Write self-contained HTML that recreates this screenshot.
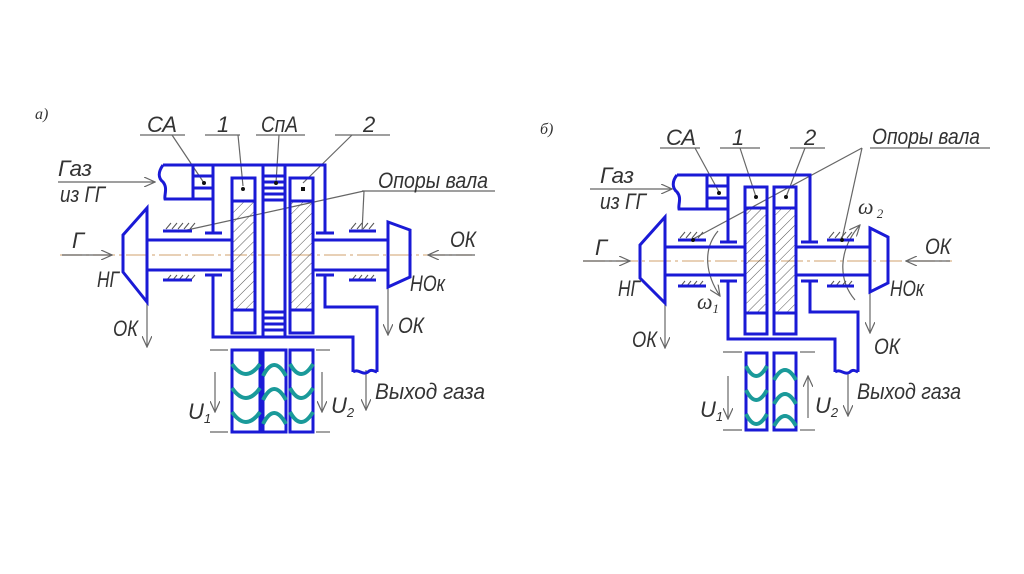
<!DOCTYPE html>
<html><head><meta charset="utf-8"><style>
html,body{margin:0;padding:0;background:#fff;}
svg{display:block;}
text{font-family:"Liberation Sans",sans-serif;font-style:italic;fill:#333;}
</style></head><body>
<svg width="1024" height="574" viewBox="0 0 1024 574" xmlns="http://www.w3.org/2000/svg">
<defs>
<pattern id="h" width="7" height="7" patternUnits="userSpaceOnUse" patternTransform="rotate(45)">
<line x1="0" y1="0" x2="0" y2="7" stroke="#555" stroke-width="1"/>
</pattern>
<marker id="a" markerWidth="12" markerHeight="10" refX="11" refY="5" orient="auto" markerUnits="userSpaceOnUse">
<path d="M0,0 L11,5 L0,10" fill="none" stroke="#666" stroke-width="1.2"/>
</marker>
</defs>

<!-- ============ LEFT (а) ============ -->
<text x="35" y="119" font-size="16" style="font-family:'Liberation Serif',serif">а)</text>
<line x1="60" y1="255" x2="472" y2="255" stroke="#d9b58a" stroke-width="1.3" stroke-dasharray="22,4,3,4"/>
<g stroke="#666" stroke-width="1.2" fill="none">
<line x1="140" y1="135" x2="185" y2="135"/><line x1="205" y1="135" x2="240" y2="135"/>
<line x1="256" y1="135" x2="305" y2="135"/><line x1="335" y1="135" x2="390" y2="135"/>
<line x1="172" y1="135" x2="204" y2="183"/><line x1="238" y1="135" x2="243" y2="186"/>
<line x1="279" y1="135" x2="276" y2="183"/><line x1="352" y1="135" x2="303" y2="183"/>
<line x1="362" y1="191" x2="495" y2="191"/>
<line x1="364" y1="191" x2="178" y2="232"/><line x1="364" y1="191" x2="362" y2="232"/>
<line x1="58" y1="182" x2="155" y2="182" marker-end="url(#a)"/>
<line x1="62" y1="255" x2="112" y2="255" marker-end="url(#a)"/>
<line x1="475" y1="255" x2="428" y2="255" marker-end="url(#a)"/>
<line x1="147" y1="302" x2="147" y2="347" marker-end="url(#a)"/>
<line x1="388" y1="287" x2="388" y2="335" marker-end="url(#a)"/>
<line x1="366" y1="370" x2="366" y2="410" marker-end="url(#a)"/>
<line x1="215" y1="372" x2="215" y2="412" marker-end="url(#a)"/>
<line x1="322" y1="372" x2="322" y2="412" marker-end="url(#a)"/>
<line x1="210" y1="350" x2="228" y2="350"/><line x1="316" y1="350" x2="330" y2="350"/>
<line x1="210" y1="432" x2="228" y2="432"/><line x1="316" y1="432" x2="330" y2="432"/>
</g>
<g stroke="#555" stroke-width="1">
<path d="M166,229 l5,-6 M172,229 l5,-6 M178,229 l5,-6 M184,229 l5,-6 M190,229 l5,-6"/>
<path d="M166,281 l5,-6 M172,281 l5,-6 M178,281 l5,-6 M184,281 l5,-6 M190,281 l5,-6"/>
<path d="M351,229 l5,-6 M357,229 l5,-6 M363,229 l5,-6 M369,229 l5,-6"/>
<path d="M351,281 l5,-6 M357,281 l5,-6 M363,281 l5,-6 M369,281 l5,-6"/>
</g>
<g stroke="#1a1ad6" stroke-width="3" fill="none">
<line x1="163" y1="231" x2="192" y2="231"/><line x1="163" y1="280" x2="192" y2="280"/>
<line x1="349" y1="231" x2="376" y2="231"/><line x1="349" y1="280" x2="376" y2="280"/>
<path d="M163,165 H325 V233"/>
<path d="M163,165 C158,172 158,178 163,182 C168,188 164,195 165,199 H213"/>
<rect x="193" y="165" width="20" height="34"/>
<line x1="193" y1="176" x2="213" y2="176"/><line x1="193" y1="188" x2="213" y2="188"/>
<line x1="213" y1="165" x2="213" y2="233"/>
<line x1="205" y1="233" x2="222" y2="233"/><line x1="316" y1="233" x2="334" y2="233"/>
<line x1="205" y1="275" x2="222" y2="275"/><line x1="316" y1="275" x2="334" y2="275"/>
<rect x="232" y="178" width="23" height="155"/>
<line x1="232" y1="201" x2="255" y2="201"/><line x1="232" y1="310" x2="255" y2="310"/>
<rect x="263" y="165" width="22" height="172"/>
<line x1="263" y1="176" x2="285" y2="176"/><line x1="263" y1="182" x2="285" y2="182"/>
<line x1="263" y1="188" x2="285" y2="188"/><line x1="263" y1="194" x2="285" y2="194"/><line x1="263" y1="200" x2="285" y2="200"/>
<line x1="263" y1="312" x2="285" y2="312"/><line x1="263" y1="318" x2="285" y2="318"/>
<line x1="263" y1="324" x2="285" y2="324"/><line x1="263" y1="330" x2="285" y2="330"/>
<rect x="290" y="178" width="23" height="155"/>
<line x1="290" y1="201" x2="313" y2="201"/><line x1="290" y1="310" x2="313" y2="310"/>
<path d="M147,240 H232 M147,270 H232 M313,240 H388 M313,270 H388"/>
<path d="M147,208 L123,235 V272 L147,302 Z"/>
<path d="M388,222 L410,230 V277 L388,287 Z"/>
<path d="M213,275 V337 H353 V372"/>
<path d="M325,275 V307 H377 V372"/>
<path d="M353,372 C358,368 363,376 368,372 C371,369 374,371 377,372"/>
<rect x="232" y="350" width="28" height="82"/>
<rect x="263" y="350" width="23" height="82"/>
<rect x="290" y="350" width="23" height="82"/>
</g>
<rect x="233.5" y="202.5" width="20" height="106" fill="url(#h)"/>
<rect x="291.5" y="202.5" width="20" height="106" fill="url(#h)"/>
<g fill="#111"><circle cx="204" cy="183" r="2"/><circle cx="243" cy="189" r="2"/><circle cx="276" cy="183" r="2"/><rect x="301" y="187" width="4" height="4"/></g>
<g stroke="#1a9a9a" stroke-width="4" fill="none">
<path d="M232,364 Q246,384 260,364 M232,388 Q246,408 260,388 M232,412 Q246,432 260,412"/>
<path d="M263,376 Q274,354 286,376 M263,400 Q274,378 286,400 M263,424 Q274,402 286,424"/>
<path d="M290,364 Q301,384 313,364 M290,388 Q301,408 313,388 M290,412 Q301,432 313,412"/>
</g>
<g font-size="22">
<text x="147" y="132" textLength="30" lengthAdjust="spacingAndGlyphs">СА</text>
<text x="217" y="132">1</text>
<text x="261" y="132" textLength="37" lengthAdjust="spacingAndGlyphs">СпА</text>
<text x="363" y="132">2</text>
<text x="378" y="188" textLength="110" lengthAdjust="spacingAndGlyphs">Опоры вала</text>
<text x="58" y="176" textLength="34" lengthAdjust="spacingAndGlyphs">Газ</text>
<text x="60" y="202" textLength="45" lengthAdjust="spacingAndGlyphs">из ГГ</text>
<text x="72" y="248">Г</text>
<text x="97" y="287" textLength="22" lengthAdjust="spacingAndGlyphs">НГ</text>
<text x="113" y="336" textLength="25" lengthAdjust="spacingAndGlyphs">ОК</text>
<text x="450" y="247" textLength="26" lengthAdjust="spacingAndGlyphs">ОК</text>
<text x="410" y="291" textLength="35" lengthAdjust="spacingAndGlyphs">НОк</text>
<text x="398" y="333" textLength="26" lengthAdjust="spacingAndGlyphs">ОК</text>
<text x="375" y="399" textLength="110" lengthAdjust="spacingAndGlyphs">Выход газа</text>
<text x="188" y="419">U<tspan font-size="13" dy="4">1</tspan></text>
<text x="331" y="413">U<tspan font-size="13" dy="4">2</tspan></text>
</g>

<!-- ============ RIGHT (б) ============ -->
<text x="540" y="134" font-size="16" style="font-family:'Liberation Serif',serif">б)</text>
<line x1="583" y1="261" x2="952" y2="261" stroke="#d9b58a" stroke-width="1.3" stroke-dasharray="22,4,3,4"/>
<g stroke="#666" stroke-width="1.2" fill="none">
<line x1="660" y1="148" x2="700" y2="148"/><line x1="720" y1="148" x2="760" y2="148"/><line x1="790" y1="148" x2="825" y2="148"/>
<line x1="870" y1="148" x2="990" y2="148"/>
<line x1="695" y1="148" x2="719" y2="192"/><line x1="740" y1="148" x2="756" y2="197"/><line x1="805" y1="148" x2="786" y2="197"/>
<line x1="862" y1="148" x2="693" y2="239"/><line x1="862" y1="148" x2="842" y2="239"/>
<line x1="590" y1="189" x2="672" y2="189" marker-end="url(#a)"/>
<line x1="583" y1="261" x2="630" y2="261" marker-end="url(#a)"/>
<line x1="950" y1="261" x2="906" y2="261" marker-end="url(#a)"/>
<line x1="665" y1="303" x2="665" y2="348" marker-end="url(#a)"/>
<line x1="870" y1="292" x2="870" y2="333" marker-end="url(#a)"/>
<line x1="848" y1="372" x2="848" y2="416" marker-end="url(#a)"/>
<line x1="728" y1="376" x2="728" y2="419" marker-end="url(#a)"/>
<line x1="808" y1="418" x2="808" y2="376" marker-end="url(#a)"/>
<line x1="723" y1="352" x2="742" y2="352"/><line x1="800" y1="352" x2="815" y2="352"/>
<line x1="723" y1="430" x2="742" y2="430"/><line x1="800" y1="430" x2="815" y2="430"/>
<path d="M718,231 C702,250 706,275 720,296" marker-end="url(#a)"/>
<path d="M855,300 C838,280 838,250 860,225" marker-end="url(#a)"/>
</g>
<g stroke="#555" stroke-width="1">
<path d="M680,238 l5,-6 M686,238 l5,-6 M692,238 l5,-6 M698,238 l5,-6"/>
<path d="M680,287 l5,-6 M686,287 l5,-6 M692,287 l5,-6 M698,287 l5,-6"/>
<path d="M829,238 l5,-6 M835,238 l5,-6 M841,238 l5,-6 M847,238 l5,-6"/>
<path d="M829,287 l5,-6 M835,287 l5,-6 M841,287 l5,-6 M847,287 l5,-6"/>
</g>
<g stroke="#1a1ad6" stroke-width="3" fill="none">
<line x1="678" y1="240" x2="706" y2="240"/><line x1="678" y1="286" x2="706" y2="286"/>
<line x1="827" y1="240" x2="854" y2="240"/><line x1="827" y1="286" x2="854" y2="286"/>
<path d="M677,175 H810 V242"/>
<path d="M677,175 C672,181 672,188 677,192 C682,198 678,204 679,209 H728"/>
<rect x="707" y="175" width="21" height="34"/>
<line x1="707" y1="186" x2="728" y2="186"/><line x1="707" y1="198" x2="728" y2="198"/>
<line x1="728" y1="175" x2="728" y2="242"/>
<line x1="720" y1="242" x2="737" y2="242"/><line x1="801" y1="242" x2="818" y2="242"/>
<line x1="720" y1="281" x2="737" y2="281"/><line x1="801" y1="281" x2="818" y2="281"/>
<rect x="745" y="187" width="22" height="147"/>
<line x1="745" y1="208" x2="767" y2="208"/><line x1="745" y1="313" x2="767" y2="313"/>
<rect x="774" y="187" width="22" height="147"/>
<line x1="774" y1="208" x2="796" y2="208"/><line x1="774" y1="313" x2="796" y2="313"/>
<path d="M665,247 H745 M665,275 H745 M796,247 H870 M796,275 H870"/>
<path d="M665,217 L640,245 V278 L665,303 Z"/>
<path d="M870,228 L888,237 V283 L870,292 Z"/>
<path d="M728,281 V339 H835 V372"/>
<path d="M810,281 V312 H858 V372"/>
<path d="M835,372 C840,368 845,376 850,372 C853,369 856,371 858,372"/>
<rect x="746" y="353" width="21" height="77"/>
<rect x="774" y="353" width="22" height="77"/>
</g>
<rect x="746.5" y="209.5" width="19" height="102" fill="url(#h)"/>
<rect x="775.5" y="209.5" width="19" height="102" fill="url(#h)"/>
<g fill="#111"><circle cx="719" cy="193" r="2"/><circle cx="756" cy="197" r="2"/><circle cx="786" cy="197" r="2"/><circle cx="693" cy="240" r="2"/><circle cx="842" cy="240" r="2"/></g>
<g stroke="#1a9a9a" stroke-width="4" fill="none">
<path d="M746,366 Q756,386 767,366 M746,390 Q756,410 767,390 M746,414 Q756,434 767,414"/>
<path d="M774,380 Q785,360 796,380 M774,404 Q785,384 796,404 M774,426 Q785,406 796,426"/>
</g>
<g font-size="22">
<text x="666" y="145" textLength="30" lengthAdjust="spacingAndGlyphs">СА</text>
<text x="732" y="145">1</text>
<text x="804" y="145">2</text>
<text x="872" y="144" textLength="108" lengthAdjust="spacingAndGlyphs">Опоры вала</text>
<text x="600" y="183" textLength="34" lengthAdjust="spacingAndGlyphs">Газ</text>
<text x="600" y="209" textLength="46" lengthAdjust="spacingAndGlyphs">из ГГ</text>
<text x="595" y="255">Г</text>
<text x="618" y="296" textLength="22" lengthAdjust="spacingAndGlyphs">НГ</text>
<text x="632" y="347" textLength="25" lengthAdjust="spacingAndGlyphs">ОК</text>
<text x="925" y="254" textLength="26" lengthAdjust="spacingAndGlyphs">ОК</text>
<text x="890" y="296" textLength="34" lengthAdjust="spacingAndGlyphs">НОк</text>
<text x="874" y="354" textLength="26" lengthAdjust="spacingAndGlyphs">ОК</text>
<text x="857" y="399" textLength="104" lengthAdjust="spacingAndGlyphs">Выход газа</text>
<text x="700" y="417">U<tspan font-size="13" dy="4">1</tspan></text>
<text x="815" y="413">U<tspan font-size="13" dy="4">2</tspan></text>
<text x="697" y="309" style="font-family:'Liberation Serif',serif">ω<tspan font-size="13" dy="4">1</tspan></text>
<text x="858" y="214" style="font-family:'Liberation Serif',serif">ω<tspan font-size="13" dy="4"> 2</tspan></text>
</g>
</svg>
</body></html>
